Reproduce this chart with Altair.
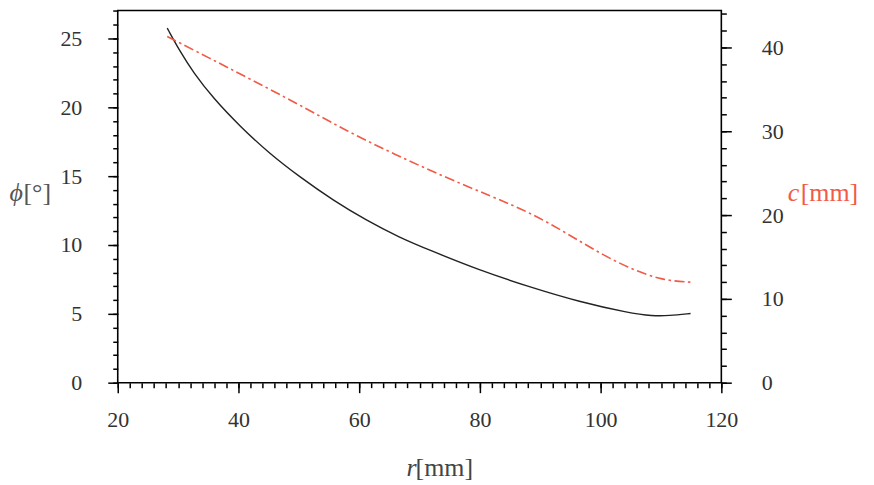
import altair as alt
import pandas as pd

# black curve: phi [deg] vs r [mm]
r_phi = [28.2, 30.3, 32.5, 35.8, 40.3, 45.2, 50.2, 55.7, 61.2, 66.7, 71.7, 79.9, 88.2, 96.5, 104.7, 108.6, 111.3, 114.9]
phi = [25.75, 24.07, 22.55, 20.67, 18.6, 16.62, 14.93, 13.24, 11.79, 10.54, 9.62, 8.17, 6.96, 5.87, 5.07, 4.84, 4.86, 5.03]

# red dash-dot curve: c [mm] vs r [mm]
r_c = [28.2, 35.0, 42.0, 50.0, 58.0, 66.0, 74.0, 82.0, 88.0, 94.0, 99.0, 104.5, 110.2, 114.9]
c = [41.3, 38.8, 36.2, 33.2, 30.0, 27.2, 24.6, 22.2, 20.4, 18.0, 15.8, 13.7, 12.2, 12.0]

x_major = [20, 40, 60, 80, 100, 120]
x_minor = list(range(20, 121, 2))
phi_major = [0, 5, 10, 15, 20, 25]
phi_minor = list(range(0, 28, 1))
c_major = [0, 10, 20, 30, 40]
c_minor = list(range(0, 45, 2))

df_phi = pd.DataFrame({"r": r_phi, "phi": phi})
df_c = pd.DataFrame({"r": r_c, "c": c})

FONT = "'Liberation Serif', 'Times New Roman', Times, serif"
RED = "#f05a46"
LBL = 22
TTL = 26

x_scale = alt.Scale(domain=[20, 120], nice=False, zero=False)
phi_scale = alt.Scale(domain=[0, 27.03], nice=False)
c_scale = alt.Scale(domain=[0, 44.4], nice=False)

common_axis = dict(grid=False, domain=False, tickColor="black", tickWidth=1.5,
                   labelFont=FONT, labelFontSize=LBL, labelColor="#333",
                   titleFont=FONT, titleFontSize=TTL, titleFontWeight="normal",
                   titleAngle=0, titleAlign="left", titleBaseline="alphabetic",
                   labelFlush=False)

black = alt.Chart(df_phi).mark_line(color="#222", strokeWidth=1.4, interpolate="basis").encode(
    x=alt.X("r:Q", scale=x_scale,
            axis=alt.Axis(orient="bottom", values=x_major, tickSize=10, title="r",
                          titleFontStyle="italic", titleColor="#444", labelPadding=17,
                          titleX=289, titleY=93, **common_axis)),
    y=alt.Y("phi:Q", scale=phi_scale,
            axis=alt.Axis(orient="left", values=phi_major, tickSize=10, title="ϕ",
                          titleFontStyle="italic", titleColor="#555", labelPadding=26,
                          titleX=-109, titleY=190, **common_axis)),
)

red = alt.Chart(df_c).mark_line(color=RED, strokeWidth=1.6, strokeDash=[10, 3.5, 2.5, 3.5],
                                interpolate="basis").encode(
    x=alt.X("r:Q", scale=x_scale, axis=None),
    y=alt.Y("c:Q", scale=c_scale,
            axis=alt.Axis(orient="right", values=c_major, tickSize=10, title="c",
                          titleFontStyle="italic", titleColor=RED, labelPadding=30,
                          titleX=66, titleY=190, **common_axis)),
)

minor_left = alt.Chart(df_phi).mark_line(opacity=0).encode(
    x=alt.X("r:Q", scale=x_scale, axis=None),
    y=alt.Y("phi:Q", scale=phi_scale,
            axis=alt.Axis(orient="left", values=phi_minor, tickSize=5, labels=False,
                          title="[°]", titleColor="#555", titleX=-95, titleY=190,
                          **common_axis)),
)

minor_right = alt.Chart(df_c).mark_line(opacity=0).encode(
    x=alt.X("r:Q", scale=x_scale, axis=None),
    y=alt.Y("c:Q", scale=c_scale,
            axis=alt.Axis(orient="right", values=c_minor, tickSize=5, labels=False,
                          title="[mm]", titleColor=RED, titleX=79, titleY=190,
                          **common_axis)),
)

minor_bottom = alt.Chart(df_phi).mark_line(opacity=0).encode(
    x=alt.X("r:Q", scale=x_scale,
            axis=alt.Axis(orient="bottom", values=x_minor, tickSize=5, labels=False,
                          title="[mm]", titleColor="#444", titleX=298, titleY=93,
                          **common_axis)),
    y=alt.Y("phi:Q", scale=phi_scale, axis=None),
)

chart = alt.layer(black, red, minor_left, minor_right, minor_bottom).resolve_scale(
    x="independent", y="independent"
).resolve_axis(
    x="independent", y="independent"
).properties(
    width=605, height=373,
    background="white",
    autosize=alt.AutoSizeParams(type="none"),
    padding={"left": 110, "top": 2, "right": 145, "bottom": 100},
).configure_view(stroke="black", strokeWidth=1.6)

chart.save("out.html", embed_options={"renderer": "svg", "actions": False})
